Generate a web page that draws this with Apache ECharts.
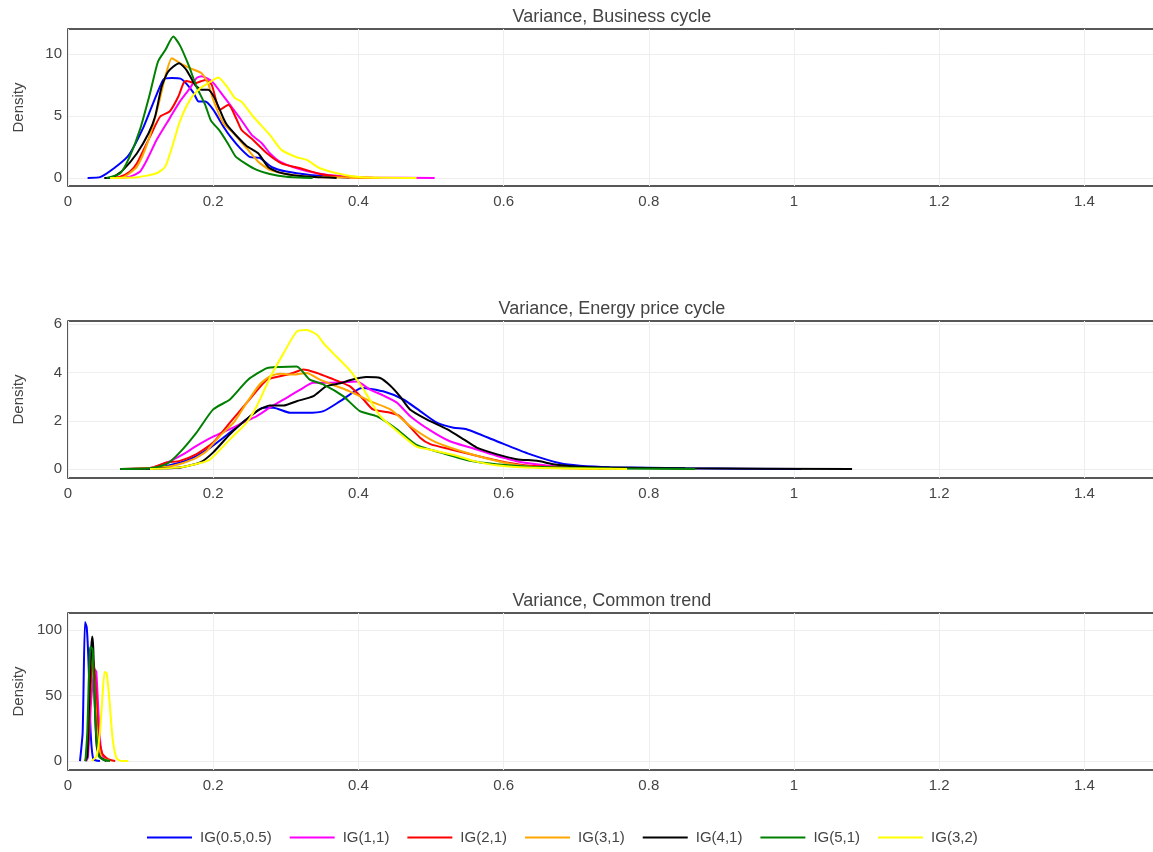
<!DOCTYPE html>
<html>
<head>
<meta charset="utf-8">
<script src="https://cdn.jsdelivr.net/npm/echarts@6/dist/echarts.min.js"></script>
<style>
  html, body { margin: 0; padding: 0; background: #fff; }
  #chart { width: 1153px; height: 852px; }
</style>
</head>
<body>
<div id="chart"></div>
<script>
// legend names, in draw order
const seriesNames = ['IG(0.5,0.5)', 'IG(1,1)', 'IG(2,1)', 'IG(3,1)', 'IG(4,1)', 'IG(5,1)', 'IG(3,2)'];
const panelTitles = ['Variance, Business cycle', 'Variance, Energy price cycle', 'Variance, Common trend'];
const xTicks = [0, 0.2, 0.4, 0.6, 0.8, 1, 1.2, 1.4];
const yTicks1 = [0, 5, 10];
const yTicks2 = [0, 2, 4, 6];
const yTicks3 = [0, 50, 100];

// --- Variance, Business cycle: [x, density]
const bizBlue = [[0.027,0],[0.045,0.08],[0.082,1.72],[0.104,4.1],[0.131,7.9],[0.143,8.05],[0.155,8.0],[0.163,7.6],[0.173,6.85],[0.18,6.15],[0.189,6.15],[0.2,5.5],[0.214,4.14],[0.224,3.3],[0.237,2.4],[0.251,1.67],[0.264,1.61],[0.281,0.86],[0.301,0.51],[0.333,0.24],[0.365,0.1],[0.388,0]];
const bizMagenta = [[0.07,0],[0.085,0.1],[0.099,0.5],[0.11,1.6],[0.122,3.06],[0.14,4.8],[0.154,6.15],[0.168,7.23],[0.177,8.04],[0.184,8.2],[0.191,8.05],[0.198,7.8],[0.209,7.0],[0.223,5.9],[0.237,4.81],[0.253,3.47],[0.267,2.8],[0.278,1.99],[0.292,1.31],[0.315,0.78],[0.343,0.38],[0.375,0.15],[0.42,0.03],[0.505,0]];
const bizRed = [[0.06,0],[0.072,0.1],[0.085,0.5],[0.095,1.18],[0.113,3.33],[0.127,4.95],[0.14,5.35],[0.152,6.56],[0.159,7.63],[0.163,7.82],[0.175,7.63],[0.189,7.9],[0.198,7.5],[0.209,5.48],[0.221,5.89],[0.232,4.75],[0.239,3.87],[0.255,3.06],[0.274,1.99],[0.294,1.18],[0.32,0.78],[0.347,0.32],[0.375,0.1],[0.42,0]];
const bizOrange = [[0.065,0],[0.076,0.05],[0.095,0.91],[0.111,3.06],[0.124,5.75],[0.134,8.17],[0.143,9.65],[0.154,9.25],[0.168,8.85],[0.184,8.44],[0.193,7.63],[0.2,6.3],[0.214,4.4],[0.228,3.6],[0.246,2.4],[0.262,1.31],[0.278,0.65],[0.301,0.32],[0.333,0.1],[0.43,0]];
const bizBlack = [[0.05,0],[0.062,0.05],[0.076,0.65],[0.095,1.99],[0.111,3.6],[0.12,4.95],[0.129,7.36],[0.138,8.57],[0.153,9.25],[0.163,8.71],[0.175,7.5],[0.184,7.1],[0.193,7.1],[0.202,6.43],[0.214,4.81],[0.219,4.27],[0.232,3.4],[0.246,2.58],[0.262,1.99],[0.276,0.86],[0.292,0.43],[0.32,0.15],[0.35,0.05],[0.37,0]];
const bizGreen = [[0.053,0],[0.072,0.38],[0.085,1.72],[0.099,3.87],[0.113,6.83],[0.124,9.38],[0.134,10.3],[0.145,11.4],[0.154,10.7],[0.166,9.1],[0.177,7.36],[0.189,5.89],[0.197,4.6],[0.208,3.87],[0.22,2.8],[0.231,1.72],[0.244,1.18],[0.26,0.65],[0.278,0.32],[0.301,0.1],[0.337,0]];
const bizYellow = [[0.058,0],[0.095,0.05],[0.122,0.38],[0.134,0.91],[0.145,2.8],[0.154,4.54],[0.168,6.29],[0.182,7.23],[0.193,7.63],[0.207,8.1],[0.219,7.36],[0.23,6.43],[0.239,6.15],[0.255,4.95],[0.278,3.47],[0.294,2.26],[0.315,1.67],[0.329,1.45],[0.347,0.78],[0.375,0.32],[0.402,0.08],[0.48,0]];

// --- Variance, Energy price cycle
const engBlue = [[0.072,0],[0.113,0],[0.14,0.16],[0.168,0.41],[0.196,0.89],[0.223,1.51],[0.246,2.06],[0.269,2.54],[0.283,2.54],[0.306,2.33],[0.329,2.33],[0.352,2.4],[0.375,2.81],[0.405,3.36],[0.434,3.22],[0.462,2.88],[0.485,2.4],[0.508,1.92],[0.531,1.71],[0.549,1.65],[0.59,1.16],[0.636,0.62],[0.678,0.24],[0.705,0.14],[0.747,0.08],[0.85,0.03],[1.01,0]];
const engMagenta = [[0.072,0],[0.113,0.04],[0.136,0.27],[0.159,0.62],[0.177,0.96],[0.2,1.34],[0.223,1.65],[0.241,1.92],[0.26,2.19],[0.278,2.54],[0.301,2.95],[0.32,3.29],[0.338,3.57],[0.361,3.57],[0.398,3.63],[0.416,3.29],[0.434,3.05],[0.453,2.75],[0.471,2.2],[0.499,1.6],[0.526,1.15],[0.554,0.89],[0.59,0.55],[0.627,0.27],[0.7,0.05],[0.76,0]];
const engRed = [[0.072,0],[0.113,0.04],[0.136,0.27],[0.154,0.34],[0.177,0.62],[0.2,1.1],[0.223,1.92],[0.246,2.74],[0.274,3.7],[0.292,3.84],[0.31,3.98],[0.324,4.12],[0.343,3.98],[0.361,3.77],[0.388,3.43],[0.407,2.88],[0.42,2.47],[0.444,2.33],[0.457,2.19],[0.485,1.3],[0.499,1.03],[0.526,0.82],[0.563,0.55],[0.604,0.27],[0.636,0.14],[0.738,0]];
const engOrange = [[0.072,0],[0.113,0.04],[0.145,0.14],[0.173,0.41],[0.191,0.75],[0.209,1.37],[0.228,1.92],[0.246,2.74],[0.264,3.5],[0.278,3.84],[0.292,3.95],[0.31,3.91],[0.329,3.98],[0.347,3.7],[0.37,3.43],[0.388,3.22],[0.416,2.81],[0.444,2.47],[0.471,1.78],[0.499,1.23],[0.526,0.89],[0.563,0.55],[0.6,0.27],[0.636,0.1],[0.73,0]];
const engBlack = [[0.072,0],[0.113,0.02],[0.15,0.05],[0.182,0.27],[0.2,0.69],[0.223,1.44],[0.246,2.06],[0.264,2.47],[0.278,2.63],[0.297,2.63],[0.315,2.81],[0.338,3.02],[0.356,3.43],[0.375,3.55],[0.388,3.68],[0.411,3.81],[0.43,3.77],[0.444,3.45],[0.457,3.02],[0.471,2.47],[0.494,2.06],[0.522,1.65],[0.545,1.23],[0.563,0.89],[0.59,0.62],[0.618,0.41],[0.646,0.34],[0.673,0.18],[0.723,0.07],[0.85,0.03],[1.08,0]];
const engGreen = [[0.072,0],[0.113,0.03],[0.136,0.21],[0.154,0.69],[0.177,1.51],[0.2,2.47],[0.223,2.88],[0.248,3.7],[0.274,4.18],[0.292,4.23],[0.315,4.25],[0.333,3.7],[0.352,3.5],[0.379,3.02],[0.402,2.4],[0.425,2.19],[0.453,1.65],[0.48,1.0],[0.517,0.65],[0.554,0.34],[0.59,0.2],[0.636,0.1],[0.75,0.02],[0.864,0]];
const engYellow = [[0.113,0],[0.154,0.07],[0.182,0.25],[0.196,0.41],[0.223,1.23],[0.246,1.92],[0.26,2.6],[0.278,3.77],[0.297,4.8],[0.315,5.69],[0.329,5.76],[0.343,5.56],[0.352,5.21],[0.365,4.8],[0.388,4.1],[0.407,3.3],[0.43,2.19],[0.453,1.58],[0.48,0.93],[0.499,0.8],[0.535,0.55],[0.558,0.34],[0.59,0.16],[0.646,0.05],[0.77,0]];

// --- Variance, Common trend
const trendBlue = [[0.0165,0],[0.0202,22],[0.0234,106],[0.0258,102],[0.0285,72],[0.0312,22],[0.0349,1.5],[0.044,0]];
const trendMagenta = [[0.025,0],[0.0275,3],[0.032,47],[0.0367,70],[0.039,68],[0.0422,34],[0.045,11.6],[0.0487,3],[0.056,0]];
const trendRed = [[0.024,0],[0.0275,10],[0.031,55],[0.0345,78],[0.038,60],[0.042,22],[0.047,6],[0.055,1.5],[0.065,0]];
const trendOrange = [[0.024,0],[0.027,15],[0.0305,70],[0.033,85],[0.036,62],[0.04,20],[0.046,3],[0.058,0]];
const trendBlack = [[0.024,0],[0.0266,4],[0.0293,47],[0.0321,87],[0.0335,95],[0.0349,85],[0.0367,47],[0.0395,11.6],[0.044,3],[0.053,0]];
const trendGreen = [[0.024,0],[0.0266,22],[0.0285,60],[0.0303,85],[0.0312,87],[0.034,85],[0.0358,60],[0.0386,22],[0.0422,4],[0.049,1],[0.058,0]];
const trendYellow = [[0.0326,0],[0.0395,4],[0.044,22],[0.0478,52],[0.0505,68],[0.0533,67],[0.057,47],[0.0615,17],[0.067,2],[0.074,0],[0.083,0]];

const panelData = [
  [bizBlue, bizMagenta, bizRed, bizOrange, bizBlack, bizGreen, bizYellow],
  [engBlue, engMagenta, engRed, engOrange, engBlack, engGreen, engYellow],
  [trendBlue, trendMagenta, trendRed, trendOrange, trendBlack, trendGreen, trendYellow]
];

const colors = ['#0000ff', '#ff00ff', '#ff0000', '#ffa500', '#000000', '#008000', '#ffff00'];
const font = 'Liberation Sans, Arial, sans-serif';
const gridTops = [29, 321, 613];
const yRanges = [[-0.65, 12.0], [-0.37, 6.13], [-6.8, 112.9]];
const yTickSets = [yTicks1, yTicks2, yTicks3];

const chart = echarts.init(document.getElementById('chart'));

const grids = [], xAxes = [], yAxes = [], titles = [], series = [];
gridTops.forEach((top, i) => {
  grids.push({
    left: 68, top: top, width: 1089, height: 157,
    show: true, borderColor: '#222', borderWidth: 1.5,
    outerBoundsMode: 'none'
  });
  titles.push({
    text: panelTitles[i], left: 612, top: top - 21, textAlign: 'center', padding: 0,
    textStyle: { fontFamily: font, fontSize: 18, fontWeight: 'normal', color: '#444' }
  });
  xAxes.push({
    type: 'value', gridIndex: i, min: 0, max: 1.5,
    axisLine: { show: false, onZero: false },
    axisTick: { show: false, customValues: xTicks },
    axisLabel: { customValues: xTicks, color: '#444', fontSize: 15, fontFamily: font, margin: 8 },
    splitLine: { show: true, lineStyle: { color: '#eeeeee', width: 1 } }
  });
  yAxes.push({
    type: 'value', gridIndex: i, min: yRanges[i][0], max: yRanges[i][1],
    name: 'Density', nameLocation: 'middle', nameGap: 42,
    nameTextStyle: { color: '#444', fontSize: 15, fontFamily: font },
    axisLine: { show: false },
    axisTick: { show: false, customValues: yTickSets[i] },
    axisLabel: { customValues: yTickSets[i], color: '#444', fontSize: 15, fontFamily: font, margin: 6 },
    splitLine: { show: true, lineStyle: { color: '#eeeeee', width: 1 } }
  });
  panelData[i].forEach((d, k) => {
    series.push({
      type: 'line', name: seriesNames[k], xAxisIndex: i, yAxisIndex: i,
      data: d, symbol: 'none', smooth: 0.2,
      lineStyle: { color: colors[k], width: 2 },
      itemStyle: { color: colors[k] }
    });
  });
});

chart.setOption({
  animation: false,
  color: colors,
  title: titles,
  legend: {
    data: seriesNames, left: 147, top: 830, padding: 0,
    icon: 'rect', itemWidth: 45, itemHeight: 2, itemGap: 18,
    textStyle: { fontFamily: font, fontSize: 15, color: '#444', padding: [0, 0, 0, 3] }
  },
  grid: grids,
  xAxis: xAxes,
  yAxis: yAxes,
  series: series
});
</script>
</body>
</html>
